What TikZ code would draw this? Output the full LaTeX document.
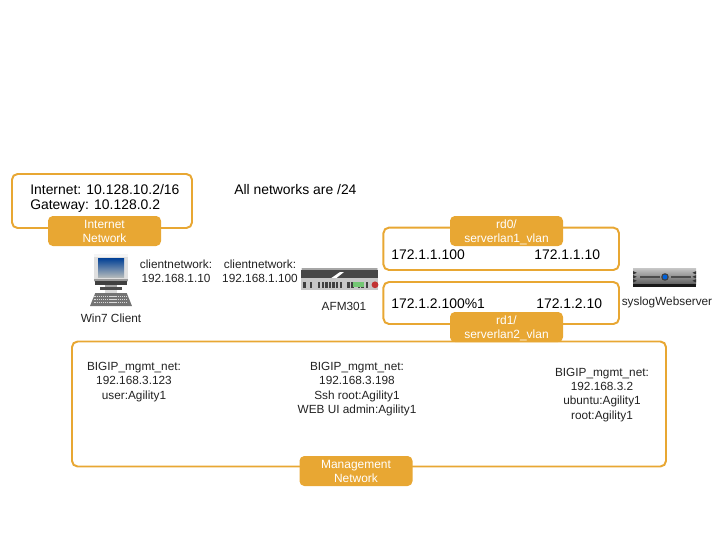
\documentclass[tikz,border=0pt]{standalone}
\usepackage{fontspec}
\setmainfont{Liberation Sans}
\usetikzlibrary{positioning}
\definecolor{netorange}{HTML}{E8A733}
\definecolor{labelgray}{HTML}{222222}
\tikzset{
	netbox/.style={draw=netorange, line width=1.4pt, rectangle, rounded corners=0.14cm, inner sep=0pt},
	netbadge/.style={rectangle, rounded corners=0.12cm, fill=netorange, minimum height=0.75cm, minimum width=2.825cm, inner sep=0pt, text=white, align=center, text depth=0pt, font=\fontsize{8.5}{10}\selectfont},
	bigtext/.style={inner sep=0pt, text=black, font=\fontsize{9.9}{10.6}\selectfont},
	smalltext/.style={inner sep=0pt, text=labelgray, align=center, font=\fontsize{8.4}{10.2}\selectfont}
}
\begin{document}
\begin{tikzpicture}
		\useasboundingbox (0,0) rectangle (18,-13.5);
		
		%Network boxes
		\node (Internet Box) at (2.55,-5.025) [netbox, minimum height=1.35cm, minimum width=4.5cm]{};
		\node (Rd0 Box) at (12.53,-6.22) [netbox, minimum height=1.06cm, minimum width=5.89cm]{};
		\node (Rd1 Box) at (12.53,-7.575) [netbox, minimum height=1.05cm, minimum width=5.89cm]{};
		\node (Management Box) at (9.225,-10.1) [netbox, minimum height=3.125cm, minimum width=14.85cm]{};
		
		%Badges on the boxes
		\node (Internet Network) at (2.6125,-5.775) [netbadge]{Internet\\Network};
		\node (Rd0 Vlan) at (12.6625,-5.775) [netbadge]{rd0/\\serverlan1\_vlan};
		\node (Rd1 Vlan) at (12.6625,-8.175) [netbadge]{rd1/\\serverlan2\_vlan};
		\node (Management Network) at (8.9,-11.775) [netbadge]{Management\\Network};
		
		%Writing of the large size
		\node (Internet Text) at (0.75,-4.97) [bigtext, anchor=west, align=left]{Internet: 10.128.10.2/16\\Gateway: 10.128.0.2};
		\node (All Networks) at (5.85,-4.75) [bigtext, anchor=west]{All networks are /24};
		\node (Rd0 Self) at (9.775,-6.375) [bigtext, anchor=west]{172.1.1.100};
		\node (Rd0 Server) at (13.35,-6.375) [bigtext, anchor=west]{172.1.1.10};
		\node (Rd1 Self) at (9.775,-7.6) [bigtext, anchor=west]{172.1.2.100\%1};
		\node (Rd1 Server) at (13.4,-7.6) [bigtext, anchor=west]{172.1.2.10};
		
		%Writing of the small size
		\node (Client Net) at (4.4,-6.79) [smalltext]{clientnetwork:\\192.168.1.10};
		\node (Afm Net) at (6.5,-6.79) [smalltext]{clientnetwork:\\192.168.1.100};
		\node (Client Mgmt) at (3.35,-9.55) [smalltext]{BIGIP\_mgmt\_net:\\192.168.3.123\\user:Agility1};
		\node (Afm Mgmt) at (8.925,-9.73) [smalltext]{BIGIP\_mgmt\_net:\\192.168.3.198\\Ssh root:Agility1\\WEB UI admin:Agility1};
		\node (Server Mgmt) at (15.05,-9.87) [smalltext]{BIGIP\_mgmt\_net:\\192.168.3.2\\ubuntu:Agility1\\root:Agility1};
		\node (Win7 Client) at (2.775,-7.95) [smalltext]{Win7 Client};
		\node (AFM301) at (8.6,-7.65) [smalltext]{AFM301};
		\node (syslogWebserver) at (16.675,-7.55) [smalltext]{syslogWebserver};
		
		%Client computer
		\fill[black!12] (2.35,-6.35) rectangle (3.2,-7.05);
		\fill[black!4] (2.35,-6.35) rectangle (3.2,-6.42);
		\shade[top color=blue!45!black!75!cyan, bottom color=blue!20!cyan!10!black!30] (2.45,-6.45) rectangle (3.1,-6.93);
		\fill[black!40] (2.35,-6.98) rectangle (3.2,-7.03);
		\fill[black!75] (2.38,-7.03) rectangle (3.17,-7.12);
		\fill[black!35] (2.63,-7.12) rectangle (2.92,-7.2);
		\fill[black!70] (2.5,-7.18) rectangle (3.05,-7.26);
		\fill[black!15] (2.62,-7.26) rectangle (2.93,-7.33);
		\fill[black!55] (2.38,-7.33) -- (3.17,-7.33) -- (3.3,-7.65) -- (2.25,-7.65) -- cycle;
		\foreach \row in {-7.41,-7.49,-7.57}
			\draw[black!15, line width=0.5pt, dash pattern=on 1pt off 0.5pt] (2.36,\row) -- (3.19,\row);
		
		%Firewall
		\fill[rounded corners=0.03cm, black!35] (7.53,-6.7) rectangle (9.45,-6.75);
		\fill[black!72] (7.53,-6.74) rectangle (9.45,-6.96);
		\fill[white] (8.27,-6.96) -- (8.4,-6.96) -- (8.6,-6.8) -- (8.5,-6.8) -- cycle;
		\fill[black!22] (7.53,-6.96) rectangle (9.45,-7.25);
		\foreach \port in {7.58,7.75,7.95,8.04,8.13,8.22,8.31,8.4,8.49,8.68,8.78,8.95,9.03,9.15}
			\fill[black!75] (\port,-7.04) rectangle ++(0.06,-0.15);
		\fill[green!60!black!55] (8.83,-7.05) rectangle (9.1,-7.18);
		\fill[red!70!black!80] (9.375,-7.12) circle (0.085);
		
		%Server
		\shade[top color=black!22, bottom color=black!62] (15.83,-6.7) rectangle (17.4,-7.1);
		\fill[black!90] (15.83,-7.1) rectangle (17.4,-7.18);
		\foreach \tooth in {-6.78,-6.88,-6.98}{
			\fill[black!80] (15.83,\tooth) -- ++(0.09,-0.04) -- ++(-0.09,-0.04) -- cycle;
			\fill[black!80] (17.4,\tooth) -- ++(-0.09,-0.04) -- ++(0.09,-0.04) -- cycle;
		}
		\fill[black!70] (16,-6.89) rectangle (16.5,-6.95);
		\fill[black!70] (16.78,-6.89) rectangle (17.28,-6.95);
		\fill[black!75] (16.625,-6.925) circle (0.095);
		\fill[blue!55!cyan!85!black] (16.625,-6.925) circle (0.06);
		\end{tikzpicture}
\end{document}
